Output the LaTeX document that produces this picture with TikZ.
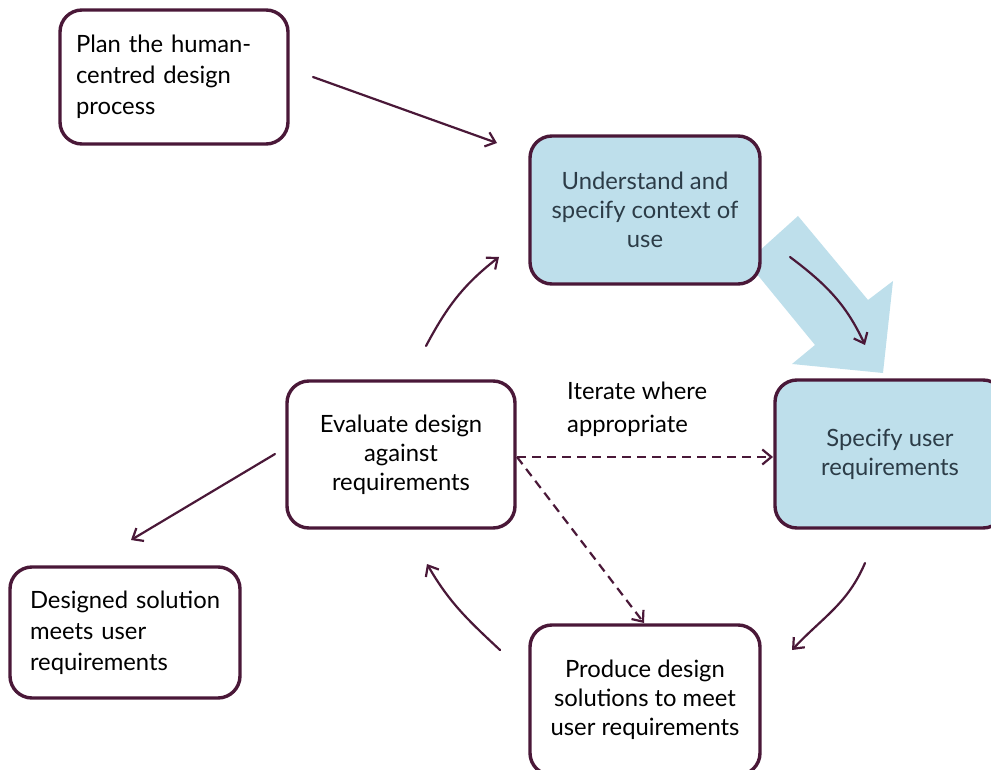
\documentclass[tikz,border=0pt]{standalone}
\usepackage{fontspec}
\setmainfont{Lato}
\usetikzlibrary{arrows.meta}
\definecolor{plum}{HTML}{4A1838}
\definecolor{ltblue}{HTML}{BEDFEB}
\definecolor{slate}{HTML}{2C3C47}
\begin{document}
\begin{tikzpicture}[x=1pt,y=-1pt,
  box/.style={draw=plum, line width=3.4pt, rounded corners=22pt, fill=white,
    font=\fontsize{23.8}{29}\selectfont, inner sep=0pt, align=center},
  bluebox/.style={box, fill=ltblue, text=slate},
  leftbox/.style={box, align=left, font=\fontsize{23.8}{31}\selectfont},
  conn/.style={draw=plum, line width=2.2pt, line cap=round,
    -{Straight Barb[length=9pt,width=15pt]}},
  dconn/.style={conn, line cap=butt, dash pattern=on 9pt off 6pt},
  bigarrow/.style={fill=ltblue, draw=none},
  lbl/.style={font=\fontsize{23.8}{33}\selectfont, align=left, inner sep=0pt}]
\useasboundingbox (0,0) rectangle (991,770);
\clip (0,0) rectangle (991,770);

% big block arrow
\path[bigarrow] (747,262) -- (798,216) -- (868,300) -- (893,281) -- (883,373)
  -- (792,364) -- (815,345) -- cycle;

% boxes
\node[leftbox, minimum width=228pt, minimum height=134pt, text width=196pt] (plan) at (174,77)
  {\mbox{Plan the human-}\\\mbox{centred design}\\process};
\node[bluebox, minimum width=230pt, minimum height=148pt] (und) at (645,210)
  {Understand and\\specify context of\\use};
\node[bluebox, minimum width=230pt, minimum height=148pt] (spec) at (890,454)
  {Specify user\\requirements};
\node[box, minimum width=228pt, minimum height=147pt] (eval) at (401,454.5)
  {Evaluate design\\against\\requirements};
\node[leftbox, minimum width=230pt, minimum height=131pt, text width=190pt] (done) at (125,632.5)
  {\mbox{Designed solution}\\meets user\\requirements};
\node[box, minimum width=230pt, minimum height=150pt] (prod) at (645,700)
  {Produce design\\solutions to meet\\user requirements};

\node[lbl, anchor=north west] (iter) at (567,382) {Iterate where\\appropriate};

% connector end points
\coordinate (p1) at (313,77);   \coordinate (u1) at (497,143);
\coordinate (e1) at (426,346);  \coordinate (u2) at (499,257);
\coordinate (u3) at (790,257);  \coordinate (s1) at (865,345);
\coordinate (s2) at (865,563);  \coordinate (r1) at (792,650);
\coordinate (r2) at (500,650);  \coordinate (e2) at (427,564);
\coordinate (e3) at (275,454);  \coordinate (d1) at (131,540);
\coordinate (e4) at (517,457);  \coordinate (s3) at (773,457);
\coordinate (r3) at (644,623);

% connectors
\draw[conn] (p1) -- (u1);
\draw[conn] (e1) to[out=62, in=218] (u2);
\draw[conn] (u3) to[out=-37, in=115] (s1);
\draw[conn] (s2) to[out=-113, in=47] (r1);
\draw[conn] (r2) to[out=137, in=-60] (e2);
\draw[conn] (e3) -- (d1);
\draw[dconn] (e4) -- (s3);
\draw[dconn] (e4) -- (r3);
\end{tikzpicture}
\end{document}
